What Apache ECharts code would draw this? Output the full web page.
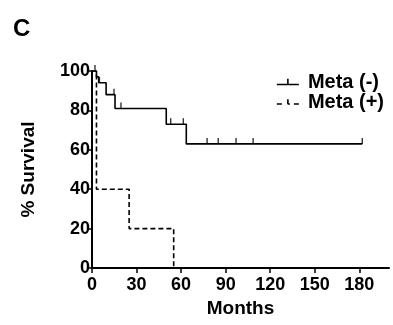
<!DOCTYPE html>
<html>
<head>
<meta charset="utf-8">
<script src="https://cdn.jsdelivr.net/npm/echarts@6/dist/echarts.min.js"></script>
<style>
  html, body { margin: 0; padding: 0; background: #fff; }
  #chart { width: 393px; height: 325px; }
</style>
</head>
<body>
<div id="chart"></div>
<script>
// survival steps (months, % survival)
var metaNeg = [[0, 100], [3, 97], [4.5, 94], [9.5, 88], [15.5, 81], [50, 73], [63.5, 63], [182, 63]];
var metaPos = [[0, 100], [3, 40], [25, 20], [55, 0]];
// censored marks
var metaNegCensor = [[2, 100], [5, 94], [14.8, 88], [19.5, 81], [53, 73], [61.5, 73],
  [77.5, 63], [85, 63], [97, 63], [108.5, 63], [182, 63]];
var xTicks = [0, 30, 60, 90, 120, 150, 180];

var FONT = '"Liberation Sans", Arial, sans-serif';
var chart = echarts.init(document.getElementById('chart'));

var tickMark = 'path://M0,5 L22,5 L22,6.6 L0,6.6 Z M10.2,0 L11.8,0 L11.8,6 L10.2,6 Z';
var dashTickMark = 'path://M0,5 L5,5 L5,6.6 L0,6.6 Z M17,5 L22,5 L22,6.6 L17,6.6 Z M10.2,1 L11.8,1 L11.8,6 L10.2,6 Z M11,5 L13,5 L13,6.6 L11,6.6 Z';

chart.setOption({
  animation: false,
  title: {
    text: 'C',
    left: 8,
    top: 12,
    textStyle: { fontFamily: FONT, fontSize: 24, fontWeight: 'bold', color: '#000' }
  },
  legend: {
    orient: 'vertical',
    right: 4,
    top: 67,
    itemGap: 0,
    itemWidth: 22,
    itemHeight: 7,
    textStyle: { fontFamily: FONT, fontSize: 20, fontWeight: 'bold', color: '#000', padding: [0, 0, 0, 4] },
    data: [
      { name: 'Meta (-)', icon: tickMark, itemStyle: { color: '#000' } },
      { name: 'Meta (+)', icon: dashTickMark, itemStyle: { color: '#000' } }
    ]
  },
  grid: { left: 92, right: 4, top: 71, bottom: 57 },
  xAxis: {
    type: 'value',
    min: 0,
    max: 200,
    interval: 30,
    name: 'Months',
    nameLocation: 'middle',
    nameGap: 31,
    nameTextStyle: { fontFamily: FONT, fontSize: 19, fontWeight: 'bold', color: '#000' },
    splitLine: { show: false },
    axisLine: { lineStyle: { color: '#000', width: 2 } },
    axisTick: { customValues: xTicks, length: 5, lineStyle: { color: '#000', width: 1.5 } },
    axisLabel: { customValues: xTicks, margin: 8, fontFamily: FONT, fontSize: 18, fontWeight: 'bold', color: '#000' }
  },
  yAxis: {
    type: 'value',
    min: 0,
    max: 100,
    interval: 20,
    name: '% Survival',
    nameLocation: 'middle',
    nameGap: 54,
    nameTextStyle: { fontFamily: FONT, fontSize: 19, fontWeight: 'bold', color: '#000' },
    splitLine: { show: false },
    axisLine: { show: true, lineStyle: { color: '#000', width: 2 } },
    axisTick: { show: true, length: 5, lineStyle: { color: '#000', width: 1.5 } },
    axisLabel: { margin: 2, fontFamily: FONT, fontSize: 18, fontWeight: 'bold', color: '#000' }
  },
  series: [
    {
      name: 'Meta (-)',
      type: 'line',
      step: 'end',
      data: metaNeg,
      symbol: 'none',
      lineStyle: { color: '#000', width: 1.6 },
      itemStyle: { color: '#000' }
    },
    {
      name: 'Meta (+)',
      type: 'line',
      step: 'end',
      data: metaPos,
      symbol: 'none',
      lineStyle: { color: '#000', width: 1.6, type: [5, 3] },
      itemStyle: { color: '#000' }
    },
    {
      name: 'Meta (-) censored',
      type: 'scatter',
      data: metaNegCensor,
      symbol: 'rect',
      symbolSize: [1.4, 6],
      symbolOffset: [0, -3],
      itemStyle: { color: '#000' },
      silent: true
    }
  ]
});

window.addEventListener('resize', function () { chart.resize(); });
</script>
</body>
</html>
